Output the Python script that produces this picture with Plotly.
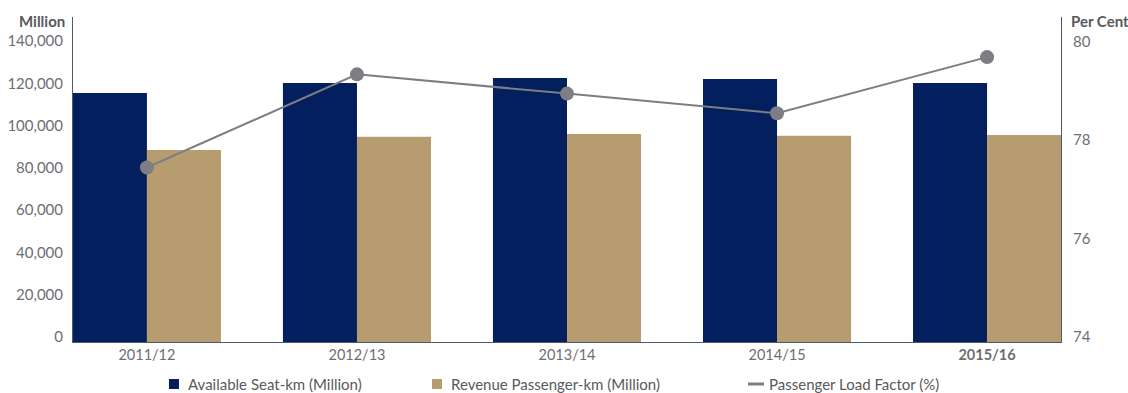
import plotly.graph_objects as go

# Financial years on the category axis
years = ["2011/12", "2012/13", "2013/14", "2014/15", "2015/16"]
year_labels = ["2011/12", "2012/13", "2013/14", "2014/15", "<b>2015/16</b>"]

# Capacity and traffic (million km)
available_seat_km = [117900, 122600, 125000, 124500, 122600]
revenue_passenger_km = [90900, 97100, 98500, 97600, 98000]

# Passenger load factor (%)
load_factor = [77.54, 79.43, 79.04, 78.64, 79.78]

left_ticks = [0, 20000, 40000, 60000, 80000, 100000, 120000, 140000]
right_ticks = [74, 76, 78, 80]

NAVY = "#031f5e"
GOLD = "#b79c6f"
GREY_LINE = "#7d7e84"
AXIS = "#4d5b6e"
TICK_GREY = "#6d6e71"
TITLE_GREY = "#58595b"
FONT = "Source Sans Pro, Lato, sans-serif"

W, H = 1128, 393
L, R, T, B = 73, 67, 17, 51
PW, PH = W - L - R, H - T - B


def px(x):
    return (x - L) / PW


def py(y):
    return (H - B - y) / PH


fig = go.Figure()
fig.add_trace(go.Bar(
    x=years, y=available_seat_km, name="Available Seat-km (Million)",
    marker=dict(color=NAVY, line=dict(width=0)), showlegend=False,
))
fig.add_trace(go.Bar(
    x=years, y=revenue_passenger_km, name="Revenue Passenger-km (Million)",
    marker=dict(color=GOLD, line=dict(width=0)), showlegend=False,
))
fig.add_trace(go.Scatter(
    x=years, y=load_factor, name="Passenger Load Factor (%)", yaxis="y2",
    mode="lines+markers", line=dict(color=GREY_LINE, width=2),
    marker=dict(color=GREY_LINE, size=14), showlegend=False,
))

# Legend drawn as swatches plus labels along the bottom
legend_items = [
    ("rect", NAVY, 169, 186, "Available Seat-km (Million)"),
    ("rect", GOLD, 432, 449, "Revenue Passenger-km (Million)"),
    ("line", GREY_LINE, 748, 767, "Passenger Load Factor (%)"),
]
shapes = []
annotations = []
ly = 384
for kind, color, sx, tx, label in legend_items:
    if kind == "rect":
        shapes.append(dict(type="rect", xref="paper", yref="paper",
                           x0=px(sx), x1=px(sx + 10), y0=py(ly + 5), y1=py(ly - 5),
                           fillcolor=color, line=dict(width=0)))
    else:
        shapes.append(dict(type="line", xref="paper", yref="paper",
                           x0=px(sx), x1=px(sx + 16), y0=py(ly), y1=py(ly),
                           line=dict(color=color, width=3)))
    annotations.append(dict(text=label, xref="paper", yref="paper",
                            x=px(tx), y=py(ly), xanchor="left", yanchor="middle",
                            showarrow=False, font=dict(size=15, color=TITLE_GREY, family=FONT)))

annotations.append(dict(text="<b>Million</b>", xref="paper", yref="paper",
                        x=px(67), y=py(21), xanchor="right", yanchor="middle",
                        showarrow=False, font=dict(size=15, color=TITLE_GREY, family=FONT)))
annotations.append(dict(text="<b>Per Cent</b>", xref="paper", yref="paper",
                        x=px(1069), y=py(21), xanchor="left", yanchor="middle",
                        showarrow=False, font=dict(size=15, color=TITLE_GREY, family=FONT)))

fig.update_layout(
    width=W, height=H, autosize=False,
    margin=dict(l=L, r=R, t=T, b=B, pad=0, autoexpand=False),
    paper_bgcolor="white", plot_bgcolor="white",
    barmode="group", bargap=0.295, bargroupgap=0,
    font=dict(family=FONT, size=15, color=TICK_GREY),
    showlegend=False,
    shapes=shapes, annotations=annotations,
    xaxis=dict(
        type="category", range=[-0.352, 4.352],
        tickvals=years, ticktext=year_labels,
        showline=True, linecolor=AXIS, linewidth=1,
        showgrid=False, ticks="", zeroline=False, automargin=False,
        tickfont=dict(size=14.5, color=TICK_GREY, family=FONT),
    ),
    yaxis=dict(
        range=[0, 153840], tickvals=left_ticks, tickformat=",",
        showline=True, linecolor=AXIS, linewidth=1,
        showgrid=False, zeroline=False, ticks="", automargin=False,
        ticklabelshift=-5, ticklabelstandoff=6,
        tickfont=dict(size=15, color=TICK_GREY, family=FONT),
    ),
    yaxis2=dict(
        overlaying="y", side="right",
        range=[74, 80.594], tickvals=right_ticks,
        showline=True, linecolor=AXIS, linewidth=1,
        showgrid=False, zeroline=False, ticks="", automargin=False,
        ticklabelshift=-5, ticklabelstandoff=8,
        tickfont=dict(size=15, color=TICK_GREY, family=FONT),
    ),
)

fig.write_html("out.html")
